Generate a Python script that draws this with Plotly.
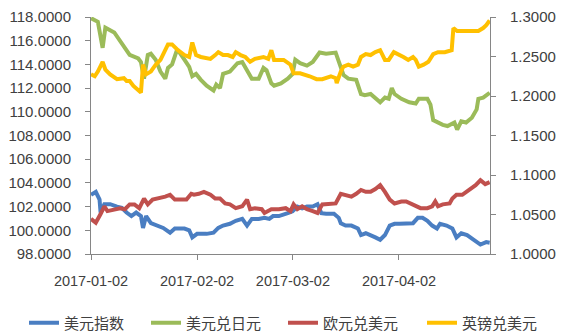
import pandas as pd
import plotly.graph_objects as go

base_date = "2017-01-02"
tick_dates = ["2017-01-02", "2017-02-02", "2017-03-02", "2017-04-02"]
series_names = ["美元指数", "美元兑日元", "欧元兑美元", "英镑兑美元"]
left_ticks = [98, 100, 102, 104, 106, 108, 110, 112, 114, 116, 118]
right_ticks = [1.0, 1.05, 1.1, 1.15, 1.2, 1.25, 1.3]

# day offsets from 2017-01-02 and values
usd_idx_days = [0, 1.4, 2.5, 2.8, 3.9, 5.6, 7.6, 9.0, 10.4, 11.8, 13.2, 14.6, 15.2, 16.1, 17.5, 19.4,
                21.1, 23.1, 24.5, 27.3, 28.7, 29.6, 31.0, 33.8, 35.8, 37.2, 38.6, 40.6, 42.3, 44.2,
                45.6, 47.0, 49.0, 50.7, 52.1, 53.2, 54.9, 57.5, 58.9, 60.3, 61.7, 63.1, 64.8, 66.2,
                67.3, 68.7, 71.0, 72.4, 73.0, 74.4, 76.1, 78.0, 78.9, 80.3, 81.7, 83.1, 84.5, 85.9,
                87.3, 88.7, 90.1, 92.1, 94.1, 95.5, 96.9, 98.3, 99.7, 101.1, 102.0, 103.9, 105.6,
                106.8, 108.2, 109.9, 111.8, 113.8, 115.5, 116.5]
usd_idx = [103.0, 103.24, 102.6, 101.5, 102.2, 102.2, 102.0, 101.9, 101.5, 101.2, 101.5, 101.2, 100.2,
           101.2, 100.6, 100.4, 100.2, 99.8, 100.15, 100.15, 100.0, 99.4, 99.7, 99.7, 99.8, 100.2,
           100.4, 100.55, 100.8, 100.96, 100.4, 100.96, 100.96, 101.05, 100.96, 101.2, 101.2, 101.45,
           101.6, 102.0, 101.85, 102.0, 102.0, 102.2, 101.45, 101.4, 101.4, 101.05, 100.6, 100.4,
           100.4, 100.15, 99.6, 99.75, 99.6, 99.4, 99.2, 99.6, 100.4, 100.55, 100.55, 100.55, 100.6,
           101.05, 101.05, 100.8, 100.4, 100.15, 100.55, 100.4, 100.15, 99.4, 99.75, 99.6, 99.2,
           98.8, 99.0, 98.95]

usdjpy_days = [0, 2.0, 3.4, 4.2, 6.8, 8.5, 9.9, 11.3, 13.8, 14.6, 15.5, 16.6, 17.5, 18.9, 20.3, 21.7,
               22.5, 23.7, 25.1, 25.9, 27.3, 28.7, 29.6, 30.7, 32.1, 33.8, 35.8, 36.6, 37.7, 38.6,
               40.6, 42.8, 44.2, 45.1, 47.0, 49.0, 50.4, 51.3, 52.7, 53.5, 55.5, 57.5, 58.9, 59.7,
               61.1, 63.1, 64.8, 66.8, 68.7, 71.5, 72.4, 73.8, 75.2, 77.5, 78.9, 80.0, 81.7, 83.1,
               84.5, 85.9, 87.0, 87.9, 88.7, 90.7, 93.0, 94.9, 95.8, 98.3, 99.2, 100.0, 101.4, 102.8,
               104.2, 106.2, 107.0, 108.2, 109.6, 111.3, 112.7, 113.2, 114.6, 115.5, 116.5]
usdjpy = [117.9, 117.6, 115.4, 117.1, 116.7, 116.0, 115.4, 114.8, 114.5, 114.2, 112.8, 114.8, 114.9,
          114.4, 113.4, 112.8, 113.7, 114.0, 115.2, 115.0, 114.4, 113.8, 113.0, 113.2, 112.7, 112.2,
          111.8, 112.3, 112.0, 113.2, 113.4, 114.1, 114.2, 113.7, 112.8, 112.8, 113.7, 113.5, 112.4,
          112.2, 112.4, 112.8, 113.2, 114.4, 114.1, 113.9, 114.2, 115.0, 114.9, 115.0, 114.2, 113.1,
          112.8, 112.7, 111.5, 111.4, 111.5, 111.1, 110.8, 111.2, 111.1, 112.0, 111.5, 111.1, 110.8,
          110.7, 111.1, 111.1, 110.6, 109.3, 109.1, 108.9, 108.8, 109.1, 108.5, 109.2, 109.1, 109.5,
          110.2, 111.1, 111.2, 111.4, 111.6]

eurusd_days = [0, 1.4, 2.8, 3.9, 4.8, 6.8, 8.5, 9.9, 11.3, 12.7, 14.1, 15.5, 16.6, 18.0, 19.7, 21.7,
               23.1, 24.5, 26.5, 27.9, 29.3, 30.1, 31.5, 33.0, 34.9, 36.3, 37.7, 39.2, 40.6, 42.3,
               44.2, 45.6, 46.5, 47.9, 49.9, 50.7, 52.7, 54.9, 56.9, 58.3, 59.2, 60.3, 61.7, 63.1,
               64.8, 66.2, 67.6, 69.6, 71.5, 73.0, 74.4, 76.1, 77.5, 78.9, 80.3, 81.7, 83.1, 84.5,
               85.9, 87.3, 88.7, 90.7, 92.1, 93.5, 94.9, 96.3, 98.3, 99.7, 100.6, 101.4, 102.8, 104.8,
               105.6, 106.8, 108.5, 110.4, 112.4, 113.8, 115.2, 116.5]
eurusd = [1.0445, 1.0396, 1.0506, 1.0604, 1.0543, 1.0567, 1.0580, 1.0567, 1.0628, 1.0628, 1.0580,
          1.0701, 1.0628, 1.0689, 1.0701, 1.0726, 1.0750, 1.0689, 1.0689, 1.0689, 1.0762, 1.0750,
          1.0762, 1.0787, 1.0750, 1.0701, 1.0701, 1.0640, 1.0628, 1.0580, 1.0604, 1.0689, 1.0567,
          1.0580, 1.0567, 1.0520, 1.0567, 1.0567, 1.0580, 1.0543, 1.0628, 1.0567, 1.0604, 1.0567,
          1.0543, 1.0520, 1.0628, 1.0628, 1.0640, 1.0762, 1.0750, 1.0726, 1.0762, 1.0811, 1.0787,
          1.0787, 1.0823, 1.0872, 1.0787, 1.0689, 1.0640, 1.0665, 1.0665, 1.0640, 1.0604, 1.0580,
          1.0580, 1.0604, 1.0665, 1.0604, 1.0628, 1.0640, 1.0701, 1.0750, 1.0750, 1.0811, 1.0872,
          1.0933, 1.0884, 1.0909]

gbpusd_days = [0, 1.1, 2.0, 3.4, 4.2, 5.6, 7.6, 9.6, 10.4, 11.3, 12.4, 13.8, 14.6, 15.2, 16.1, 17.5,
               18.9, 20.3, 21.7, 22.5, 23.7, 25.4, 27.3, 28.7, 29.6, 30.7, 32.1, 34.9, 36.3, 37.2,
               38.6, 40.0, 41.4, 42.3, 43.7, 45.1, 46.5, 47.9, 50.4, 51.8, 52.7, 53.5, 56.3, 58.3,
               59.2, 61.1, 63.9, 65.9, 67.6, 70.1, 71.5, 71.8, 73.0, 73.8, 75.2, 76.6, 78.0, 78.9,
               80.3, 81.7, 83.1, 84.5, 85.9, 87.0, 88.5, 89.9, 91.3, 92.7, 94.1, 94.9, 95.8, 97.2,
               98.6, 100.0, 101.4, 103.4, 105.4, 105.9, 107.0, 109.0, 111.0, 113.2, 114.6, 115.5, 116.5]
gbpusd = [1.2274, 1.2250, 1.2310, 1.2433, 1.2335, 1.2274, 1.2213, 1.2226, 1.2190, 1.2190, 1.2128,
          1.2067, 1.2043, 1.2396, 1.2274, 1.2310, 1.2396, 1.2457, 1.2580, 1.2653, 1.2653, 1.2580,
          1.2518, 1.2494, 1.2677, 1.2518, 1.2494, 1.2470, 1.2518, 1.2555, 1.2518, 1.2518, 1.2494,
          1.2555, 1.2518, 1.2494, 1.2433, 1.2470, 1.2494, 1.2470, 1.2580, 1.2457, 1.2457, 1.2396,
          1.2287, 1.2287, 1.2250, 1.2213, 1.2213, 1.2250, 1.2226, 1.2165, 1.2310, 1.2372, 1.2396,
          1.2372, 1.2396, 1.2494, 1.2530, 1.2518, 1.2555, 1.2580, 1.2457, 1.2457, 1.2555, 1.2530,
          1.2494, 1.2457, 1.2494, 1.2457, 1.2372, 1.2396, 1.2433, 1.2530, 1.2555, 1.2555, 1.2580,
          1.2860, 1.2823, 1.2823, 1.2823, 1.2823, 1.2860, 1.2896, 1.2957]

x_end_days = 116.6

base = pd.Timestamp(base_date)


def to_dates(days):
    return base + pd.to_timedelta(days, unit="D")


colors = ["#4A7EC2", "#9BBB59", "#C0504D", "#FFC000"]
font_family = "Liberation Sans, Arial, sans-serif"
cjk_font = "Noto Sans CJK SC, sans-serif"
axis_grey = "#868686"
text_col = "#404040"

fig = go.Figure()
data = [(usd_idx_days, usd_idx, "y", "legend"),
        (usdjpy_days, usdjpy, "y", "legend2"),
        (eurusd_days, eurusd, "y2", "legend3"),
        (gbpusd_days, gbpusd, "y2", "legend4")]
for (d, v, ax, lg), name, c in zip(data, series_names, colors):
    fig.add_trace(go.Scatter(x=to_dates(d), y=v, mode="lines", name=name, yaxis=ax,
                             legend=lg, line=dict(color=c, width=4)))

legend_x = [24, 146, 283, 422]
legend_common = dict(orientation="h", xref="container", yref="container", xanchor="left",
                     yanchor="middle", y=(334 - 323) / 334, bgcolor="rgba(0,0,0,0)",
                     font=dict(family=cjk_font, size=15, color=text_col), borderwidth=0)
legends = {}
for i, lx in enumerate(legend_x):
    key = "legend" if i == 0 else f"legend{i + 1}"
    legends[key] = dict(legend_common, x=lx / 564)

fig.update_layout(
    width=564, height=334, autosize=False,
    margin=dict(l=83, r=67, t=8, b=80),
    paper_bgcolor="white", plot_bgcolor="white",
    showlegend=True,
    font=dict(family=font_family, size=15, color=text_col),
    xaxis=dict(type="date", range=[base, to_dates([x_end_days])[0]],
               tickvals=pd.to_datetime(tick_dates), ticktext=tick_dates,
               showline=True, linecolor=axis_grey, linewidth=1, ticks="outside",
               ticklen=5, tickcolor=axis_grey, showgrid=False, zeroline=False,
               ticklabelstandoff=9, ticklabeloverflow="allow",
               tickfont=dict(size=14.5, color=text_col)),
    yaxis=dict(range=[98, 118.001], tickmode="array", tickvals=left_ticks,
               ticktext=[f"{v:.4f}" for v in left_ticks], showline=True,
               linecolor=axis_grey, linewidth=1, ticks="outside", ticklen=5,
               tickcolor=axis_grey, showgrid=False, zeroline=False, ticklabelstandoff=11,
               ticklabeloverflow="allow", tickfont=dict(size=15, color=text_col)),
    yaxis2=dict(range=[1.0, 1.30001], tickmode="array", tickvals=right_ticks,
                ticktext=[f"{v:.4f}" for v in right_ticks], overlaying="y",
                side="right", showline=True, linecolor=axis_grey, linewidth=1, ticks="outside",
                ticklen=5, tickcolor=axis_grey, showgrid=False, zeroline=False,
                ticklabelstandoff=11, ticklabeloverflow="allow",
                tickfont=dict(size=15, color=text_col)),
    **legends,
)

fig.write_html("out.html")
